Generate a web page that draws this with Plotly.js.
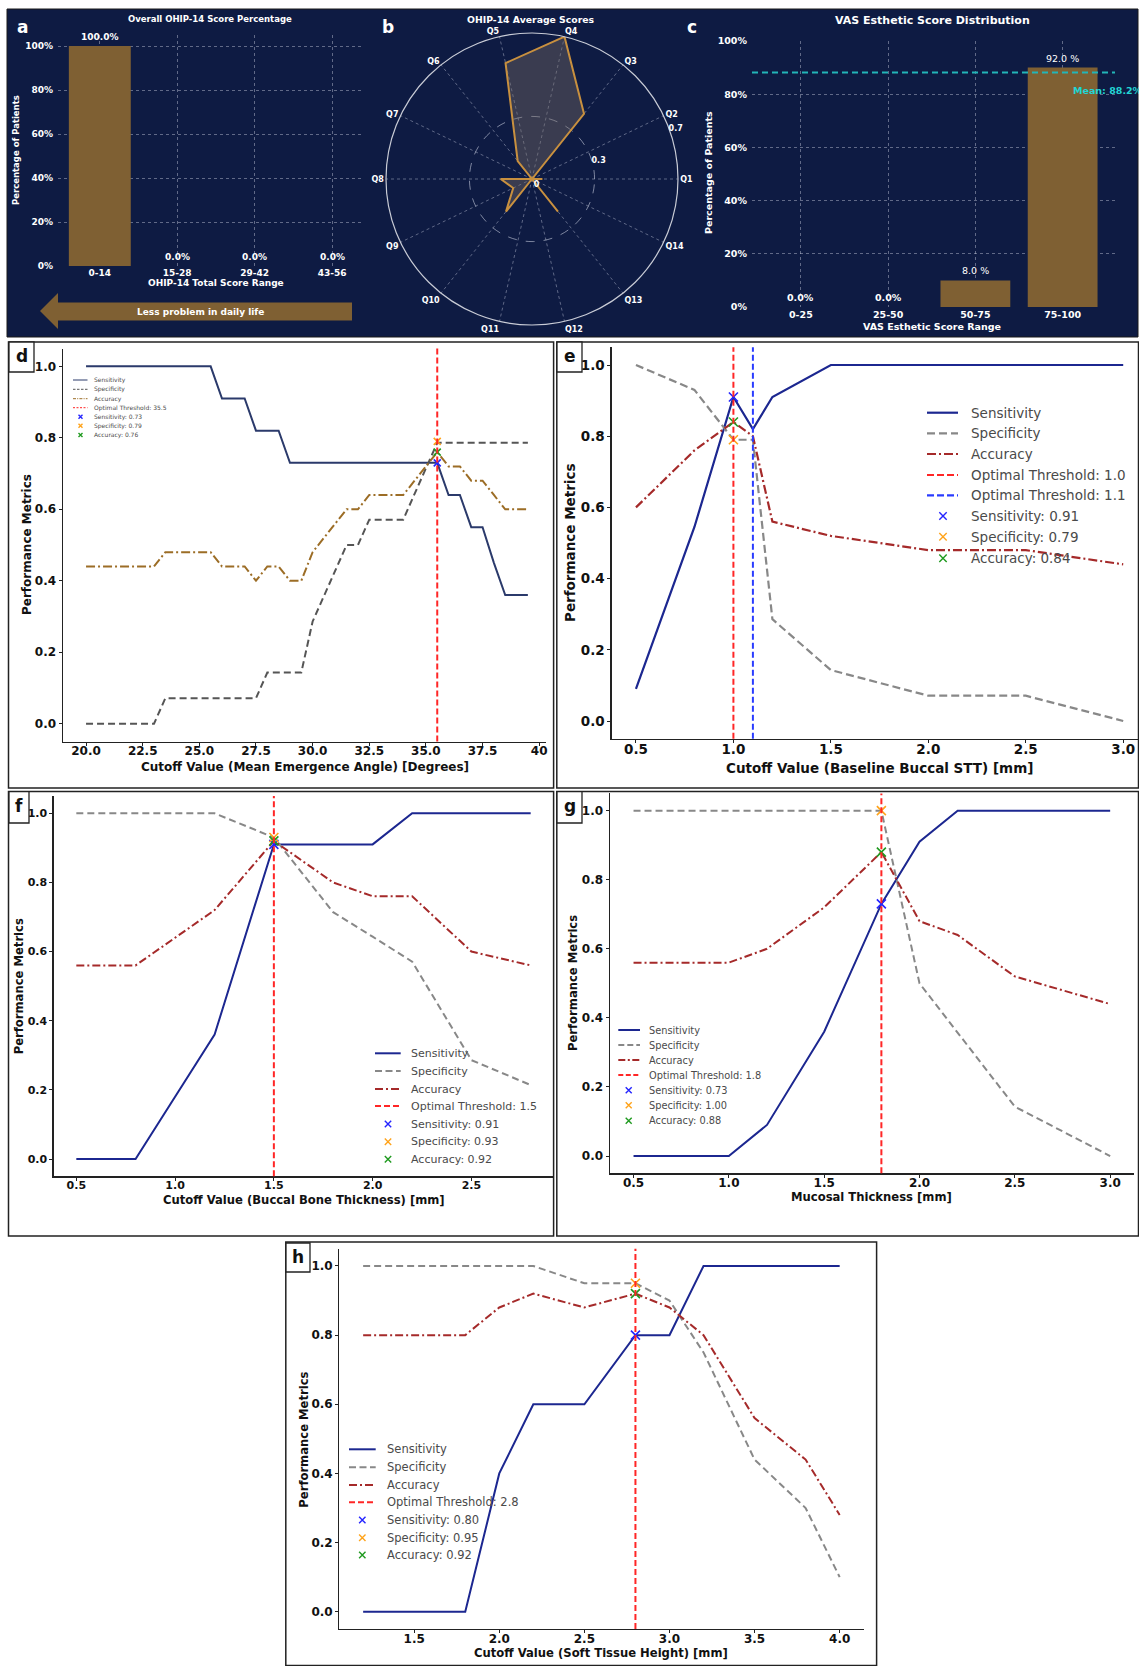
<!DOCTYPE html>
<html><head><meta charset="utf-8">
<script src="https://cdn.plot.ly/plotly-3.0.1.min.js"></script>
<style>body{margin:0;background:#fff}#chart{width:1139px;height:1666px}</style>
</head><body><div id="chart"></div>
<script>
// ---------------- DATA ----------------
// a: OHIP-14 total score distribution
const ohipRanges = ['0-14', '15-28', '29-42', '43-56'];
const ohipPct = [100, 0, 0, 0];
const ohipLabels = ['100.0%', '0.0%', '0.0%', '0.0%'];
// b: OHIP-14 average item scores
const ohipItems = ['Q1','Q2','Q3','Q4','Q5','Q6','Q7','Q8','Q9','Q10','Q11','Q12','Q13','Q14'];
const ohipMeans = [0.05, 0, 0.40, 0.70, 0.57, 0.11, 0, 0.15, 0.10, 0.20, 0, 0, 0.20, 0];
const radialTicks = [0, 0.3, 0.7];
const radialTickText = ['0', '0.3', '0.7'];
// c: VAS esthetic score distribution (bar heights as drawn, labels as printed)
const vasRanges = ['0-25', '25-50', '50-75', '75-100'];
const vasPct = [0, 0, 10, 90];
const vasLabels = ['0.0%', '0.0%', '8.0 %', '92.0 %'];
const vasMean = 88.2;
// d: Mean emergence angle
const dCut = [20,20.5,21,21.5,22,22.5,23,23.5,24,24.5,25,25.5,26,26.5,27,27.5,28,28.5,29,29.5,30,30.5,31,31.5,32,32.5,33,33.5,34,34.5,35,35.5,36,36.5,37,37.5,38,38.5,39,39.5];
const dSens = [1,1,1,1,1,1,1,1,1,1,1,1,0.91,0.91,0.91,0.82,0.82,0.82,0.73,0.73,0.73,0.73,0.73,0.73,0.73,0.73,0.73,0.73,0.73,0.73,0.73,0.73,0.64,0.64,0.55,0.55,0.45,0.36,0.36,0.36];
const dSpec = [0,0,0,0,0,0,0,0.071,0.071,0.071,0.071,0.071,0.071,0.071,0.071,0.071,0.143,0.143,0.143,0.143,0.286,0.357,0.429,0.5,0.5,0.571,0.571,0.571,0.571,0.643,0.714,0.786,0.786,0.786,0.786,0.786,0.786,0.786,0.786,0.786];
const dAcc = [0.44,0.44,0.44,0.44,0.44,0.44,0.44,0.48,0.48,0.48,0.48,0.48,0.44,0.44,0.44,0.40,0.44,0.44,0.40,0.40,0.48,0.52,0.56,0.60,0.60,0.64,0.64,0.64,0.64,0.68,0.72,0.76,0.72,0.72,0.68,0.68,0.64,0.60,0.60,0.60];
// e: Baseline buccal STT
const eCut = [0.5, 0.8, 1.0, 1.1, 1.2, 1.5, 2.0, 2.5, 3.0];
const eSens = [0.09, 0.545, 0.91, 0.82, 0.91, 1.0, 1.0, 1.0, 1.0];
const eSpec = [1.0, 0.93, 0.79, 0.79, 0.286, 0.143, 0.071, 0.071, 0.0];
const eAcc = [0.60, 0.76, 0.84, 0.80, 0.56, 0.52, 0.48, 0.48, 0.44];
const eThreshold2 = 1.1;
// f: Buccal bone thickness
const fCut = [0.5, 0.8, 1.0, 1.2, 1.5, 1.8, 2.0, 2.2, 2.5, 2.8];
const fSens = [0, 0, 0.18, 0.36, 0.91, 0.91, 0.91, 1.0, 1.0, 1.0];
const fSpec = [1.0, 1.0, 1.0, 1.0, 0.93, 0.714, 0.643, 0.571, 0.286, 0.214];
const fAcc = [0.56, 0.56, 0.64, 0.72, 0.92, 0.80, 0.76, 0.76, 0.60, 0.56];
// g: Mucosal thickness
const gCut = [0.5, 1.0, 1.2, 1.5, 1.8, 2.0, 2.2, 2.5, 3.0];
const gSens = [0, 0, 0.09, 0.36, 0.73, 0.91, 1.0, 1.0, 1.0];
const gSpec = [1.0, 1.0, 1.0, 1.0, 1.0, 0.5, 0.357, 0.143, 0.0];
const gAcc = [0.56, 0.56, 0.60, 0.72, 0.88, 0.68, 0.64, 0.52, 0.44];
// h: Soft tissue height
const hCut = [1.2, 1.5, 1.8, 2.0, 2.2, 2.5, 2.8, 3.0, 3.2, 3.5, 3.8, 4.0];
const hSens = [0, 0, 0, 0.40, 0.60, 0.60, 0.80, 0.80, 1.0, 1.0, 1.0, 1.0];
const hSpec = [1.0, 1.0, 1.0, 1.0, 1.0, 0.95, 0.95, 0.90, 0.75, 0.44, 0.30, 0.10];
const hAcc = [0.80, 0.80, 0.80, 0.88, 0.92, 0.88, 0.92, 0.88, 0.80, 0.56, 0.44, 0.28];
// optimal thresholds (d, e, f, g, h)
const thresholds = [35.5, 1.0, 1.5, 1.8, 2.8];
const bestSens = [0.73, 0.91, 0.91, 0.73, 0.80];
const bestSpec = [0.79, 0.79, 0.93, 1.00, 0.95];
const bestAcc = [0.76, 0.84, 0.92, 0.88, 0.92];
// axis titles
const metricXTitles = ['Cutoff Value (Mean Emergence Angle) [Degrees]', 'Cutoff Value (Baseline Buccal STT) [mm]',
  'Cutoff Value (Buccal Bone Thickness) [mm]', 'Mucosal Thickness [mm]', 'Cutoff Value (Soft Tissue Height) [mm]'];
const dTickVals = [20, 22.5, 25, 27.5, 30, 32.5, 35, 37.5, 40];
const dTickText = ['20.0','22.5','25.0','27.5','30.0','32.5','35.0','37.5','40'];

// ---------------- HELPERS ----------------
const W = 1139, H = 1666;
const F = 'DejaVu Sans, Verdana, sans-serif';
const NAVY = '#0e1b43';
const GOLD = '#7f6033';
const px = x => x / W;
const py = y => 1 - y / H;
const traces = [];
const shapes = [];
const annotations = [];
const layout = {
  width: W, height: H, margin: {l:0, r:0, t:0, b:0},
  paper_bgcolor: '#ffffff', plot_bgcolor: 'rgba(0,0,0,0)',
  showlegend: false, font: {family: F}, bargap: 0.2
};

function txt(x, y, text, size, color, opts) {
  const a = Object.assign({xref:'paper', yref:'paper', x:px(x), y:py(y), text:text, showarrow:false,
    xanchor:'center', yanchor:'middle', font:{family:F, size:size, color:color}}, opts || {});
  if (opts && opts.weight) { a.font.weight = opts.weight; delete a.weight; }
  annotations.push(a);
}

// top dark band
shapes.push({type:'rect', xref:'paper', yref:'paper', x0:px(7), x1:px(1138), y0:py(337), y1:py(9),
  fillcolor:NAVY, line:{color:'#1a1a1a', width:1}, layer:'below'});

// ---------------- PANEL A ----------------
const gridTop = 'rgba(200,205,222,0.45)';
layout.xaxis = {domain:[px(58), px(363)], anchor:'y', type:'category', range:[-0.54, 3.40],
  showgrid:true, gridcolor:gridTop, griddash:'dot', gridwidth:1, zeroline:false, showline:false, ticks:'',
  ticklabelstandoff:0, tickfont:{family:F, size:9, color:'#fff', weight:'bold'}};
layout.yaxis = {domain:[py(266), py(35)], anchor:'x', range:[0, 105], tickvals:[0,20,40,60,80,100],
  ticktext:['0%','20%','40%','60%','80%','100%'], showgrid:true, gridcolor:gridTop, griddash:'dot',
  zeroline:false, showline:false, ticks:'', ticklabelstandoff:4, tickfont:{family:F, size:9, color:'#fff', weight:'bold'}};
traces.push({type:'bar', x:ohipRanges, y:ohipPct, xaxis:'x', yaxis:'y', width:0.8,
  marker:{color:GOLD}, hoverinfo:'skip'});
ohipRanges.forEach((r, i) => annotations.push({xref:'x', yref:'y', x:r, y:ohipPct[i], text:ohipLabels[i],
  showarrow:false, yanchor:'bottom', yshift:2, font:{family:F, size:9, color:'#fff', weight:'bold'}}));
txt(210, 19, 'Overall OHIP-14 Score Percentage', 8.5, '#fff', {weight:'bold'});
txt(16, 150, 'Percentage of Patients', 8.5, '#fff', {weight:'bold', textangle:-90});
txt(216, 283, 'OHIP-14 Total Score Range', 9, '#fff', {weight:'bold'});
txt(22, 27, 'a', 17, '#fff', {weight:'bold'});
// arrow
const arr = [[40,311],[58,293],[58,302.5],[352,302.5],[352,320.5],[58,320.5],[58,329]];
shapes.push({type:'path', xref:'paper', yref:'paper',
  path:'M ' + arr.map(p => px(p[0]) + ' ' + py(p[1])).join(' L ') + ' Z', fillcolor:GOLD, line:{width:0}});
txt(200, 312, 'Less problem in daily life', 9, '#fff', {weight:'bold'});

// ---------------- PANEL B ----------------
layout.polar = {domain:{x:[px(386), px(678)], y:[py(325), py(33)]}, bgcolor:'rgba(0,0,0,0)',
  angularaxis:{type:'category', rotation:0, direction:'counterclockwise', showline:true,
    linecolor:'#c9ccd6', linewidth:1.2, gridcolor:'rgba(200,205,222,0.55)', griddash:'dot', gridwidth:0.8,
    ticks:'', tickfont:{family:F, size:8, color:'#fff', weight:'bold'}},
  radialaxis:{range:[0, 0.7], tickvals:radialTicks, ticktext:radialTickText, angle:22.5, tickangle:22.5, showline:false,
    gridcolor:'rgba(200,205,222,0.6)', griddash:'dash', ticks:'',
    tickfont:{family:F, size:8, color:'#fff', weight:'bold'}}};
traces.push({type:'scatterpolar', subplot:'polar', r:ohipMeans.concat([ohipMeans[0]]),
  theta:ohipItems.concat([ohipItems[0]]), mode:'lines', fill:'toself',
  fillcolor:'rgba(120,108,100,0.42)', line:{color:'#c8903f', width:2}, hoverinfo:'skip'});
txt(531, 19, 'OHIP-14 Average Scores', 9.3, '#fff', {weight:'bold'});
txt(388, 27, 'b', 17, '#fff', {weight:'bold'});

// ---------------- PANEL C ----------------
layout.xaxis2 = {domain:[px(752), px(1115)], anchor:'y2', type:'category', range:[-0.56, 3.6],
  showgrid:true, gridcolor:gridTop, griddash:'dot', zeroline:false, showline:false, ticks:'',
  ticklabelstandoff:0, tickfont:{family:F, size:9.5, color:'#fff', weight:'bold'}};
layout.yaxis2 = {domain:[py(307), py(41)], anchor:'x2', range:[0, 100], tickvals:[0,20,40,60,80,100],
  ticktext:['0%','20%','40%','60%','80%','100%'], showgrid:true, gridcolor:gridTop, griddash:'dot',
  zeroline:false, showline:false, ticks:'', ticklabelstandoff:4, tickfont:{family:F, size:9.5, color:'#fff', weight:'bold'}};
traces.push({type:'bar', x:vasRanges, y:vasPct, xaxis:'x2', yaxis:'y2', width:0.8,
  marker:{color:GOLD}, hoverinfo:'skip'});
vasRanges.forEach((r, i) => annotations.push({xref:'x2', yref:'y2', x:r, y:vasPct[i], text:vasLabels[i],
  showarrow:false, yanchor:'bottom', yshift:2,
  font:{family:F, size:9.5, color:'#fff', weight:(vasPct[i] === 0 ? 'bold' : 'normal')}}));
shapes.push({type:'line', xref:'x2 domain', x0:0, x1:1, yref:'y2', y0:vasMean, y1:vasMean,
  line:{color:'#22b5b8', width:2, dash:'6px,4px'}});
annotations.push({xref:'paper', yref:'y2', x:px(1071), y:vasMean, yshift:-18, xanchor:'left', yanchor:'middle',
  text:'Mean: ' + vasMean.toFixed(1) + '%', showarrow:false, font:{family:F, size:9.5, color:'#22d4d4', weight:'bold'}});
txt(932, 21, 'VAS Esthetic Score Distribution', 11, '#fff', {weight:'bold'});
txt(708, 173, 'Percentage of Patients', 9.5, '#fff', {weight:'bold', textangle:-90});
txt(932, 326, 'VAS Esthetic Score Range', 9.5, '#fff', {weight:'bold'});
txt(692, 27, 'c', 17, '#fff', {weight:'bold'});

// ---------------- METRIC PANELS ----------------
const BLUE_M = '#2424ff', ORANGE_M = '#ffa31a', GREEN_M = '#1f9a1f', RED_T = '#ff2626', BLUE_T = '#2a3cff';
const panels = [
  {n:3, letter:'d', cut:dCut, sens:dSens, spec:dSpec, acc:dAcc, k:0,
   plot:[62.7, 546, 348.5, 741.5], xr:[18.97, 40.3], tv:dTickVals, tt:dTickText, fs:12, tfs:12,
   frame:[8.5, 553.6, 342, 788], box:[9, 34, 342, 372],
   xt:[305, 767], yt:[27, 545],
   col:{sens:'#2b3a6b', spec:'#555555', acc:'#9c6d26'}, lw:2, dashSpec:'7px,4px', dashAcc:'9px,3px,2px,3px',
   leg:{lx0:73, lx1:87.5, tx:92, rows:[380, 389.3, 398.7, 407.7, 416.7, 425.7, 435], fs:6, lw:1, xs:2, mx:80.5,
        dashSpec:'2.5px,1.5px', dashAcc:'3px,1.2px,1px,1.2px', dashThr:'2px,1.5px'}},
  {n:4, letter:'e', cut:eCut, sens:eSens, spec:eSpec, acc:eAcc, k:1,
   plot:[611.6, 1139, 347.2, 738.8], xr:[0.375, 3.081], tv:[0.5,1,1.5,2,2.5,3], fs:13.5, tfs:13.5,
   frame:[556.8, 1138.5, 342, 788], box:[557, 582, 342, 372],
   xt:[879.5, 767.5], yt:[570, 543],
   col:{sens:'#1c2790', spec:'#888888', acc:'#a52a2a'}, lw:2.2, dashSpec:'8px,4px', dashAcc:'9px,3px,2px,3px',
   leg:{lx0:927, lx1:958, tx:969, rows:[412.7, 433.3, 454, 475, 495.3, 516, 536.7, 558.3], fs:13.5, lw:2.2, xs:3.7, mx:943,
        dashSpec:'8px,4px', dashAcc:'9px,3px,2px,3px', dashThr:'7px,3px'}},
  {n:5, letter:'f', cut:fCut, sens:fSens, spec:fSpec, acc:fAcc, k:2,
   plot:[53.6, 553.4, 796, 1176.3], xr:[0.385, 2.915], tv:[0.5,1,1.5,2,2.5], fs:11, tfs:11.6,
   frame:[8.5, 553.6, 791.6, 1236], box:[9, 29, 791.6, 823],
   xt:[303.5, 1200], yt:[18.6, 986.7],
   col:{sens:'#1c2790', spec:'#888888', acc:'#a52a2a'}, lw:2, dashSpec:'7px,4px', dashAcc:'8px,3px,2px,3px',
   leg:{lx0:375, lx1:400.7, tx:409, rows:[1053.3, 1071, 1089, 1106, 1124, 1141.7, 1159.3], fs:11, lw:2, xs:3.2, mx:388,
        dashSpec:'7px,3.5px', dashAcc:'8px,3px,2px,3px', dashThr:'6px,3px'}},
  {n:6, letter:'g', cut:gCut, sens:gSens, spec:gSpec, acc:gAcc, k:3,
   plot:[609.7, 1134, 793.4, 1173.3], xr:[0.375, 3.125], tv:[0.5,1,1.5,2,2.5,3], fs:12, tfs:11.6,
   frame:[556.8, 1138.5, 791.6, 1236], box:[557, 582, 791.6, 823],
   xt:[871.8, 1197.3], yt:[573, 983],
   col:{sens:'#1c2790', spec:'#888888', acc:'#a52a2a'}, lw:2, dashSpec:'7px,4px', dashAcc:'8px,3px,2px,3px',
   leg:{lx0:618.3, lx1:640, tx:647.4, rows:[1030, 1045, 1060, 1075, 1090.3, 1105.3, 1120.7], fs:9.8, lw:2, xs:3, mx:628.7,
        dashSpec:'6px,3px', dashAcc:'7px,2.5px,2px,2.5px', dashThr:'5px,2.5px'}},
  {n:7, letter:'h', cut:hCut, sens:hSens, spec:hSpec, acc:hAcc, k:4,
   plot:[339.3, 863.5, 1248.7, 1629], xr:[1.06, 4.14], tv:[1.5,2,2.5,3,3.5,4], fs:12, tfs:11.6,
   frame:[285.8, 876.6, 1242, 1665.5], box:[286, 310, 1243, 1272],
   xt:[601.4, 1653.3], yt:[303.7, 1440],
   col:{sens:'#1c2790', spec:'#888888', acc:'#a52a2a'}, lw:2, dashSpec:'7px,4px', dashAcc:'8px,3px,2px,3px',
   leg:{lx0:349, lx1:375.7, tx:384.5, rows:[1449.3, 1467.3, 1485, 1502.3, 1520, 1537.7, 1555], fs:11.5, lw:2, xs:3.2, mx:362.3,
        dashSpec:'7px,3.5px', dashAcc:'8px,3px,2px,3px', dashThr:'6px,3px'}}
];

function xPath(cx, cy, s) {
  return 'M ' + px(cx - s) + ' ' + py(cy - s) + ' L ' + px(cx + s) + ' ' + py(cy + s) +
    ' M ' + px(cx - s) + ' ' + py(cy + s) + ' L ' + px(cx + s) + ' ' + py(cy - s);
}

panels.forEach(p => {
  const xa = 'x' + p.n, ya = 'y' + p.n;
  const tickfont = {family:F, size:p.fs, color:'#111', weight:'bold'};
  layout['xaxis' + p.n] = {domain:[px(p.plot[0]), px(p.plot[1])], anchor:ya, range:p.xr,
    tickvals:p.tv, ticktext:p.tt || p.tv.map(v => v.toFixed(1)), showgrid:false, zeroline:false,
    showline:true, linecolor:'#222', linewidth:1.2, ticks:'outside', ticklen:3, tickwidth:1, tickcolor:'#222',
    ticklabelstandoff:-5, tickfont:tickfont};
  layout['yaxis' + p.n] = {domain:[py(p.plot[3]), py(p.plot[2])], anchor:xa, range:[-0.05, 1.05],
    tickvals:[0,0.2,0.4,0.6,0.8,1.0], ticktext:['0.0','0.2','0.4','0.6','0.8','1.0'], showgrid:false, zeroline:false,
    showline:true, linecolor:'#222', linewidth:1.2, ticks:'outside', ticklen:3, tickwidth:1, tickcolor:'#222', tickfont:tickfont};
  traces.push({type:'scatter', mode:'lines', x:p.cut, y:p.sens, xaxis:xa, yaxis:ya, line:{color:p.col.sens, width:p.lw}, hoverinfo:'skip'});
  traces.push({type:'scatter', mode:'lines', x:p.cut, y:p.spec, xaxis:xa, yaxis:ya, line:{color:p.col.spec, width:p.lw, dash:p.dashSpec}, hoverinfo:'skip'});
  traces.push({type:'scatter', mode:'lines', x:p.cut, y:p.acc, xaxis:xa, yaxis:ya, line:{color:p.col.acc, width:p.lw, dash:p.dashAcc}, hoverinfo:'skip'});
  // threshold lines
  shapes.push({type:'line', xref:xa, x0:thresholds[p.k], x1:thresholds[p.k], yref:ya + ' domain', y0:0, y1:1,
    line:{color:RED_T, width:2, dash:'6px,3px'}});
  if (p.letter === 'e') {
    shapes.push({type:'line', xref:xa, x0:eThreshold2, x1:eThreshold2, yref:ya + ' domain', y0:0, y1:1,
      line:{color:BLUE_T, width:2, dash:'6px,3px'}});
  }
  // best points
  [[bestSens, BLUE_M], [bestSpec, ORANGE_M], [bestAcc, GREEN_M]].forEach(([arrv, c]) => {
    traces.push({type:'scatter', mode:'markers', x:[thresholds[p.k]], y:[arrv[p.k]], xaxis:xa, yaxis:ya,
      marker:{symbol:'x-thin', size:(p.letter === 'd' ? 7 : 9), line:{color:c, width:1.6}}, hoverinfo:'skip'});
  });
  // axis titles
  txt(p.xt[0], p.xt[1], metricXTitles[p.k], p.tfs, '#111', {weight:'bold'});
  txt(p.yt[0], p.yt[1], 'Performance Metrics', p.tfs, '#111', {weight:'bold', textangle:-90});
  // frame + label box
  shapes.push({type:'rect', xref:'paper', yref:'paper', x0:px(p.frame[0]), x1:px(p.frame[1]), y0:py(p.frame[3]), y1:py(p.frame[2]),
    line:{color:'#222', width:1.5}, fillcolor:'rgba(0,0,0,0)'});
  shapes.push({type:'rect', xref:'paper', yref:'paper', x0:px(p.box[0]), x1:px(p.box[1]), y0:py(p.box[3]), y1:py(p.box[2]),
    line:{color:'#222', width:1.3}, fillcolor:'#ffffff'});
  txt((p.box[0] + p.box[1]) / 2, (p.box[2] + p.box[3]) / 2 - 1, p.letter, 17, '#111', {weight:'bold'});
  // legend
  const L = p.leg;
  const items = [
    {k:'line', c:p.col.sens, d:'solid', t:'Sensitivity'},
    {k:'line', c:p.col.spec, d:L.dashSpec, t:'Specificity'},
    {k:'line', c:p.col.acc, d:L.dashAcc, t:'Accuracy'},
    {k:'line', c:RED_T, d:L.dashThr, t:'Optimal Threshold: ' + thresholds[p.k].toFixed(1)}
  ];
  if (p.letter === 'e') items.push({k:'line', c:BLUE_T, d:L.dashThr, t:'Optimal Threshold: ' + eThreshold2.toFixed(1)});
  items.push({k:'x', c:BLUE_M, t:'Sensitivity: ' + bestSens[p.k].toFixed(2)});
  items.push({k:'x', c:ORANGE_M, t:'Specificity: ' + bestSpec[p.k].toFixed(2)});
  items.push({k:'x', c:GREEN_M, t:'Accuracy: ' + bestAcc[p.k].toFixed(2)});
  items.forEach((it, i) => {
    const yy = L.rows[i];
    if (it.k === 'line') {
      shapes.push({type:'line', xref:'paper', yref:'paper', x0:px(L.lx0), x1:px(L.lx1), y0:py(yy), y1:py(yy),
        line:{color:it.c, width:L.lw, dash:it.d}});
    } else {
      shapes.push({type:'path', xref:'paper', yref:'paper', path:xPath(L.mx, yy, L.xs), line:{color:it.c, width:1.4}});
    }
    txt(L.tx, yy, it.t, L.fs, '#4a4a4a', {xanchor:'left'});
  });
});

layout.shapes = shapes;
layout.annotations = annotations;
Plotly.newPlot('chart', traces, layout, {displayModeBar:false, staticPlot:true});
</script></body></html>
